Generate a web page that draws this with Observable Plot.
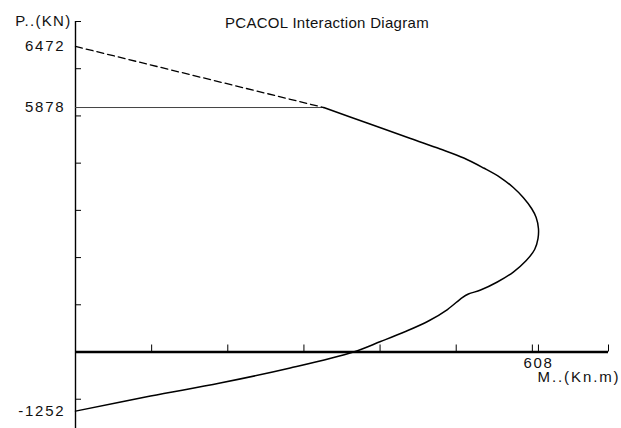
<!DOCTYPE html>
<html>
<head>
<meta charset="utf-8">
<script src="https://cdn.jsdelivr.net/npm/d3@7"></script>
<script src="https://cdn.jsdelivr.net/npm/@observablehq/plot@0.6"></script>
<style>
  html, body { margin: 0; padding: 0; background: #fff; }
  #chart svg { display: block; }
</style>
</head>
<body>
<div id="chart"></div>
<script>
// Interaction curve: moment M (kN.m) and axial load P (kN)
const curveM = [326, 383, 440, 479, 510, 536, 558, 575, 588, 599, 605, 608, 607.4, 603, 592, 575, 554, 532, 516, 508, 488.5, 463.6, 433.4, 400.6, 365, 282, 190, 98.5, 0];
const curveP = [5178, 4850, 4522, 4300, 4109, 3897, 3696, 3484, 3272, 3039, 2849, 2616, 2404, 2171, 1938, 1694, 1483, 1313, 1228, 1154, 900, 657, 434, 222, 0, -339, -657, -932, -1252];

// Cut-off line and dashed extension to pure compression
const cutM = [0, 326];
const cutP = [5178, 5178];
const dashM = [0, 326];
const dashP = [6472, 5178];

// Axis ticks and labels
const xTickVals = [0, 100, 200, 300, 400, 500, 600, 608, 700];
const yTickVals = [-1000, 0, 1000, 2000, 3000, 4000, 5000, 6000, 7000];
const yLabelVals = [6472, 5178, -1252];
const yLabelTexts = ["6472", "5878", "-1252"];
const xLabelVals = [608];
const xLabelTexts = ["608"];
const titleText = "PCACOL Interaction Diagram";
const yAxisTitle = "P..(KN)";
const xAxisTitle = "M..(Kn.m)";

const curve = curveM.map((m, i) => ({M: m, P: curveP[i]}));
const cut = cutM.map((m, i) => ({M: m, P: cutP[i]}));
const dash = dashM.map((m, i) => ({M: m, P: dashP[i]}));
const yLabels = yLabelVals.map((v, i) => ({v, t: yLabelTexts[i]}));
const xLabels = xLabelVals.map((v, i) => ({v, t: xLabelTexts[i]}));

const font = "'Liberation Sans', Arial, sans-serif";

const chart = Plot.plot({
  width: 621,
  height: 428,
  marginLeft: 75,
  marginRight: 13,
  marginTop: 21,
  marginBottom: 0,
  style: {fontFamily: font, background: "#fff", overflow: "visible"},
  x: {domain: [0, 700], axis: null},
  y: {domain: [-1620, 7000], axis: null},
  marks: [
    // axes lines
    Plot.ruleX([0], {stroke: "#000", strokeWidth: 1.4}),
    Plot.ruleY([0], {stroke: "#000", strokeWidth: 2.6}),
    // tick marks
    Plot.ruleX(xTickVals, {x: d => d, y1: 0, y2: 0, insetBottom: 7, stroke: "#000", strokeWidth: 1}),
    Plot.ruleY(yTickVals, {y: d => d, x1: 0, x2: 0, insetRight: -6, stroke: "#000", strokeWidth: 1}),
    // cut-off line and dashed extension
    Plot.line(cut, {x: "M", y: "P", stroke: "#444", strokeWidth: 1}),
    Plot.line(dash, {x: "M", y: "P", stroke: "#000", strokeWidth: 1.3, strokeDasharray: "7,4"}),
    // interaction curve
    Plot.line(curve, {x: "M", y: "P", stroke: "#000", strokeWidth: 1.5, curve: "catmull-rom"}),
    // tick labels
    Plot.text(yLabels, {x: () => 0, y: "v", text: "t", textAnchor: "end", dx: -10, fontSize: 15, fill: "#111"}),
    Plot.text(xLabels, {x: "v", y: () => 0, text: "t", dy: 11, fontSize: 15, fill: "#111"}),
    // axis titles
    Plot.text([yAxisTitle], {frameAnchor: "top-left", text: d => d, textAnchor: "end", dx: -4, dy: -6, fontSize: 15, fill: "#111"}),
    Plot.text([xAxisTitle], {x: () => 700, y: () => 0, text: d => d, textAnchor: "end", dx: 12, dy: 25, fontSize: 15, fill: "#111"}),
    // title
    Plot.text([titleText], {frameAnchor: "top", text: d => d, dx: -15, dy: -4, fontSize: 15, fill: "#111"})
  ]
});

// widen lettering to match the reference's wide bitmap-style font
const spacing = new Map([
  ...yLabelTexts.map(t => [t, "1.8px"]),
  ...xLabelTexts.map(t => [t, "1.6px"]),
  [yAxisTitle, "1.3px"],
  [xAxisTitle, "1.9px"],
  [titleText, "0.3px"]
]);
chart.querySelectorAll("text").forEach(el => {
  const s = spacing.get(el.textContent);
  if (s) el.setAttribute("letter-spacing", s);
});
document.getElementById("chart").appendChild(chart);
</script>
</body>
</html>
